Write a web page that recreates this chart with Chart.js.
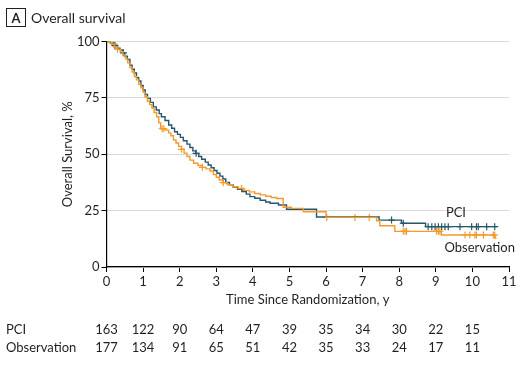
<!DOCTYPE html>
<html>
<head>
<meta charset="utf-8">
<script src="https://cdn.jsdelivr.net/npm/chart.js@4.4.1/dist/chart.umd.min.js"></script>
<style>
    html, body { margin: 0; padding: 0; background: #fff; }
    #wrap { position: relative; width: 525px; height: 368px; font-family: Lato, "Noto Sans", sans-serif; color: #231f20; }
    #survivalChart { position: absolute; left: 0; top: 0; }
    .panel-title { position: absolute; left: 6px; top: 8px; display: flex; align-items: center; font-size: 14px; }
    .panel-title .tag { box-sizing: border-box; width: 20px; height: 19px; border: 1px solid #231f20; font-weight: bold; font-size: 13px; display: flex; align-items: center; justify-content: center; margin-right: 5px; }
</style>
</head>
<body>
<div id="wrap">
    <canvas id="survivalChart" width="525" height="368"></canvas>
    <div class="panel-title"><span class="tag">A</span><span>Overall survival</span></div>
</div>
<script>
// Kaplan-Meier steps (time in years, survival in %)
const pciTimes = [0, 0.1, 0.2, 0.3, 0.37, 0.45, 0.5, 0.57, 0.64, 0.7, 0.76, 0.82, 0.88, 0.94, 1.0, 1.06, 1.12, 1.2, 1.28, 1.36, 1.44, 1.5, 1.6, 1.7, 1.78, 1.86, 1.94, 2.02, 2.1, 2.2, 2.28, 2.36, 2.44, 2.52, 2.6, 2.7, 2.78, 2.86, 2.94, 3.02, 3.1, 3.18, 3.26, 3.36, 3.46, 3.58, 3.7, 3.82, 3.92, 4.05, 4.2, 4.35, 4.47, 4.7, 4.92, 5.74, 7.45, 8.06, 8.72, 10.66];
const pciSurv  = [100, 99.4, 98.2, 97, 96.3, 95, 93.5, 92, 89.5, 87.7, 86, 84, 82.5, 80.5, 78.5, 76.5, 74.8, 73, 71, 69.6, 68, 66.6, 65, 63, 61.5, 60, 58.8, 57.5, 56, 54.5, 53, 51.5, 50.4, 49, 47.8, 46.5, 45.2, 44, 42.8, 41.6, 40.3, 39, 37.5, 36.5, 35.5, 34.5, 33.5, 32.3, 31.2, 30.5, 29.6, 28.8, 28.3, 27.5, 25.6, 22.2, 20.8, 19.4, 17.9, 17.9];
const obsTimes = [0, 0.08, 0.15, 0.22, 0.3, 0.38, 0.45, 0.52, 0.58, 0.64, 0.7, 0.76, 0.82, 0.88, 0.94, 1.0, 1.05, 1.12, 1.18, 1.24, 1.3, 1.37, 1.43, 1.48, 1.62, 1.7, 1.76, 1.83, 1.9, 1.97, 2.05, 2.12, 2.2, 2.28, 2.38, 2.5, 2.62, 2.72, 2.83, 2.92, 3.0, 3.08, 3.19, 3.3, 3.45, 3.6, 3.75, 3.9, 4.05, 4.2, 4.35, 4.5, 4.65, 4.83, 5.05, 5.38, 6.0, 7.38, 7.47, 7.88, 9.15, 10.62, 10.66];
const obsSurv  = [100, 99.4, 98.8, 97.6, 96.6, 95.5, 94, 92.3, 90.5, 88.5, 86.5, 84.5, 83, 81, 79.5, 77.5, 75.5, 73.5, 72, 70.5, 68.5, 66.6, 64, 61.3, 60.7, 59.5, 58.2, 56.3, 55, 53.5, 52.2, 50.5, 49, 47.4, 46, 45, 44.2, 43.5, 42.6, 41, 39.8, 38.6, 37.4, 36.5, 35.6, 34.8, 34, 33.3, 32.6, 32, 31.4, 30.8, 30.4, 26.5, 26, 24.5, 22.0, 20.5, 18.3, 15.8, 14.2, 12.8, 12.8];

// censoring times (+ marks)
const pciCensor = [0.23, 0.46, 2.45, 7.79, 8.11, 8.79, 8.89, 8.98, 9.07, 9.16, 9.25, 9.34, 9.66, 9.98, 10.11, 10.16, 10.39, 10.61];
const obsCensor = [0.2, 0.3, 1.52, 1.57, 2.05, 2.62, 3.19, 3.69, 6.02, 6.79, 7.18, 8.11, 8.16, 8.2, 9.02, 9.07, 9.11, 9.8, 9.93, 10.07, 10.11, 10.3, 10.57, 10.61];

// numbers at risk
const riskYears = [0, 1, 2, 3, 4, 5, 6, 7, 8, 9, 10];
const pciAtRisk = [163, 122, 90, 64, 47, 39, 35, 34, 30, 22, 15];
const obsAtRisk = [177, 134, 91, 65, 51, 42, 35, 33, 24, 17, 11];

const PCI_COLOR = '#27566b';
const OBS_COLOR = '#f39a2c';
const TEXT_COLOR = '#231f20';
const FONT = 'Lato, "Noto Sans", sans-serif';

function toPoints(times, surv) {
    return times.map((t, i) => ({ x: t, y: surv[i] }));
}

function survAt(times, surv, t) {
    let v = surv[0];
    for (let i = 0; i < times.length; i++) {
        if (times[i] <= t) v = surv[i];
    }
    return v;
}

function censorPoints(censor, times, surv) {
    return censor.map(t => ({ x: t, y: survAt(times, surv, t) }));
}

// risk table + curve labels
const extrasPlugin = {
    id: 'extras',
    afterDraw(chart) {
        const ctx = chart.ctx;
        const xs = chart.scales.x;
        const ys = chart.scales.y;
        ctx.save();
        ctx.fillStyle = TEXT_COLOR;
        ctx.font = '13px ' + FONT;
        ctx.textBaseline = 'middle';

        ctx.textAlign = 'left';
        ctx.fillText('PCI', 6, 330);
        ctx.fillText('Observation', 6, 348);

        ctx.textAlign = 'center';
        riskYears.forEach((yr, i) => {
            const px = xs.getPixelForValue(yr);
            ctx.fillText(String(pciAtRisk[i]), px, 330);
            ctx.fillText(String(obsAtRisk[i]), px, 348);
        });

        ctx.fillText('PCI', xs.getPixelForValue(9.55), ys.getPixelForValue(23.9));
        ctx.fillText('Observation', xs.getPixelForValue(10.2), ys.getPixelForValue(8.4));
        ctx.restore();
    }
};

const ctx = document.getElementById('survivalChart').getContext('2d');
new Chart(ctx, {
    type: 'scatter',
    data: {
        datasets: [
            {
                label: 'Observation',
                data: toPoints(obsTimes, obsSurv),
                showLine: true,
                stepped: true,
                borderColor: OBS_COLOR,
                borderWidth: 1.4,
                pointRadius: 0
            },
            {
                label: 'PCI',
                data: toPoints(pciTimes, pciSurv),
                showLine: true,
                stepped: true,
                borderColor: PCI_COLOR,
                borderWidth: 1.4,
                pointRadius: 0
            },
            {
                label: 'Observation censored',
                data: censorPoints(obsCensor, obsTimes, obsSurv),
                pointStyle: 'cross',
                pointRadius: 3.5,
                borderColor: OBS_COLOR,
                borderWidth: 1.2
            },
            {
                label: 'PCI censored',
                data: censorPoints(pciCensor, pciTimes, pciSurv),
                pointStyle: 'cross',
                pointRadius: 3.5,
                borderColor: PCI_COLOR,
                borderWidth: 1.2
            }
        ]
    },
    options: {
        responsive: false,
        animation: false,
        layout: { padding: { left: 46.5, right: 16, top: 41.5, bottom: 56 } },
        plugins: { legend: { display: false }, tooltip: { enabled: false } },
        scales: {
            x: {
                type: 'linear',
                min: 0,
                max: 11,
                afterFit: (axis) => { axis.height = 45; },
                ticks: { stepSize: 1, color: TEXT_COLOR, font: { family: FONT, size: 13 }, padding: 2, maxRotation: 0 },
                grid: { drawOnChartArea: false, tickLength: 5, tickColor: '#000' },
                border: { color: '#000', width: 1.2 },
                title: { display: true, text: 'Time Since Randomization, y', color: TEXT_COLOR, font: { family: FONT, size: 13 }, padding: { top: 0, bottom: 4 } }
            },
            y: {
                min: 0,
                max: 100,
                afterFit: (axis) => { axis.width = 60; },
                ticks: { stepSize: 25, color: TEXT_COLOR, font: { family: FONT, size: 13 }, padding: 2 },
                grid: { color: '#d9d9d9', tickLength: 5, tickColor: '#000' },
                border: { color: '#000', width: 1.2 },
                title: { display: true, text: 'Overall Survival, %', color: TEXT_COLOR, font: { family: FONT, size: 13 }, padding: { top: 14, bottom: 0 } }
            }
        }
    },
    plugins: [extrasPlugin]
});
</script>
</body>
</html>
